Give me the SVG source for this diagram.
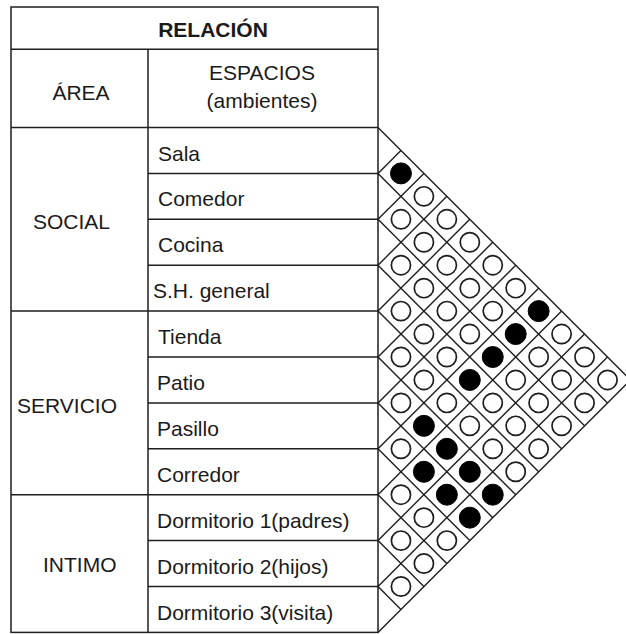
<svg xmlns="http://www.w3.org/2000/svg" width="626" height="634" viewBox="0 0 626 634">
<style>
.ln{stroke:#1e1e1e;stroke-width:1.5;fill:none}
.gl{stroke:#1e1e1e;stroke-width:1.4;fill:none}
.t{font-family:"Liberation Sans",Arial,sans-serif;font-size:21px;fill:#1a1a1a}
.b{font-weight:bold}
.o{fill:#fff;stroke:#1e1e1e;stroke-width:1.7}
.f{fill:#000;stroke:#000;stroke-width:1}
</style>
<rect width="626" height="634" fill="#fff"/>
<g id="table">
<rect class="ln" x="11" y="7" width="367" height="625.4"/>
<line class="ln" x1="11" y1="49.3" x2="378" y2="49.3"/>
<line class="ln" x1="148" y1="49.3" x2="148" y2="632.4"/>
<line class="ln" x1="11" y1="127.5" x2="378" y2="127.5"/>
<line class="ln" x1="11" y1="311.1" x2="148" y2="311.1"/>
<line class="ln" x1="11" y1="494.7" x2="148" y2="494.7"/>
<g id="row-lines">
<line class="ln" x1="148" y1="173.4" x2="378" y2="173.4"/>
<line class="ln" x1="148" y1="219.3" x2="378" y2="219.3"/>
<line class="ln" x1="148" y1="265.2" x2="378" y2="265.2"/>
<line class="ln" x1="148" y1="311.1" x2="378" y2="311.1"/>
<line class="ln" x1="148" y1="357" x2="378" y2="357"/>
<line class="ln" x1="148" y1="402.9" x2="378" y2="402.9"/>
<line class="ln" x1="148" y1="448.8" x2="378" y2="448.8"/>
<line class="ln" x1="148" y1="494.7" x2="378" y2="494.7"/>
<line class="ln" x1="148" y1="540.6" x2="378" y2="540.6"/>
<line class="ln" x1="148" y1="586.5" x2="378" y2="586.5"/>
</g>
</g>
<g id="header">
<text class="t b" x="213" y="37" text-anchor="middle">RELACIÓN</text>
<text class="t" x="81" y="100" text-anchor="middle">ÁREA</text>
<text class="t" x="262" y="80" text-anchor="middle">ESPACIOS</text>
<text class="t" x="262" y="108" text-anchor="middle">(ambientes)</text>
</g>
<g id="areas">
<text class="t" x="33" y="229">SOCIAL</text>
<text class="t" x="17" y="413">SERVICIO</text>
<text class="t" x="43" y="572">INTIMO</text>
</g>
<g id="spaces">
<text class="t" x="158" y="160.5">Sala</text>
<text class="t" x="158" y="206.4">Comedor</text>
<text class="t" x="158" y="252.3">Cocina</text>
<text class="t" x="153" y="298.2">S.H. general</text>
<text class="t" x="158" y="344.1">Tienda</text>
<text class="t" x="157" y="390">Patio</text>
<text class="t" x="157" y="435.9">Pasillo</text>
<text class="t" x="157" y="481.8">Corredor</text>
<text class="t" x="157" y="527.7">Dormitorio 1(padres)</text>
<text class="t" x="157" y="573.6">Dormitorio 2(hijos)</text>
<text class="t" x="157" y="619.5">Dormitorio 3(visita)</text>
</g>
<g id="matrix-grid">
<polyline class="gl" points="378,127.5 630.45,379.95 378,632.4"/>
<line class="gl" x1="378" y1="173.4" x2="607.5" y2="402.9"/>
<line class="gl" x1="378" y1="219.3" x2="584.55" y2="425.85"/>
<line class="gl" x1="378" y1="265.2" x2="561.6" y2="448.8"/>
<line class="gl" x1="378" y1="311.1" x2="538.65" y2="471.75"/>
<line class="gl" x1="378" y1="357" x2="515.7" y2="494.7"/>
<line class="gl" x1="378" y1="402.9" x2="492.75" y2="517.65"/>
<line class="gl" x1="378" y1="448.8" x2="469.8" y2="540.6"/>
<line class="gl" x1="378" y1="494.7" x2="446.85" y2="563.55"/>
<line class="gl" x1="378" y1="540.6" x2="423.9" y2="586.5"/>
<line class="gl" x1="378" y1="586.5" x2="400.95" y2="609.45"/>
<line class="gl" x1="378" y1="173.4" x2="400.95" y2="150.45"/>
<line class="gl" x1="378" y1="219.3" x2="423.9" y2="173.4"/>
<line class="gl" x1="378" y1="265.2" x2="446.85" y2="196.35"/>
<line class="gl" x1="378" y1="311.1" x2="469.8" y2="219.3"/>
<line class="gl" x1="378" y1="357" x2="492.75" y2="242.25"/>
<line class="gl" x1="378" y1="402.9" x2="515.7" y2="265.2"/>
<line class="gl" x1="378" y1="448.8" x2="538.65" y2="288.15"/>
<line class="gl" x1="378" y1="494.7" x2="561.6" y2="311.1"/>
<line class="gl" x1="378" y1="540.6" x2="584.55" y2="334.05"/>
<line class="gl" x1="378" y1="586.5" x2="607.5" y2="357"/>
</g>
<g id="matrix-cells">
<circle class="f" cx="400.95" cy="173.4" r="10.5"/>
<circle class="o" cx="423.9" cy="196.35" r="9.6"/>
<circle class="o" cx="446.85" cy="219.3" r="9.6"/>
<circle class="o" cx="469.8" cy="242.25" r="9.6"/>
<circle class="o" cx="492.75" cy="265.2" r="9.6"/>
<circle class="o" cx="515.7" cy="288.15" r="9.6"/>
<circle class="f" cx="538.65" cy="311.1" r="10.5"/>
<circle class="o" cx="561.6" cy="334.05" r="9.6"/>
<circle class="o" cx="584.55" cy="357" r="9.6"/>
<circle class="o" cx="607.5" cy="379.95" r="9.6"/>
<circle class="o" cx="400.95" cy="219.3" r="9.6"/>
<circle class="o" cx="423.9" cy="242.25" r="9.6"/>
<circle class="o" cx="446.85" cy="265.2" r="9.6"/>
<circle class="o" cx="469.8" cy="288.15" r="9.6"/>
<circle class="o" cx="492.75" cy="311.1" r="9.6"/>
<circle class="f" cx="515.7" cy="334.05" r="10.5"/>
<circle class="o" cx="538.65" cy="357" r="9.6"/>
<circle class="o" cx="561.6" cy="379.95" r="9.6"/>
<circle class="o" cx="584.55" cy="402.9" r="9.6"/>
<circle class="o" cx="400.95" cy="265.2" r="9.6"/>
<circle class="o" cx="423.9" cy="288.15" r="9.6"/>
<circle class="o" cx="446.85" cy="311.1" r="9.6"/>
<circle class="o" cx="469.8" cy="334.05" r="9.6"/>
<circle class="f" cx="492.75" cy="357" r="10.5"/>
<circle class="o" cx="515.7" cy="379.95" r="9.6"/>
<circle class="o" cx="538.65" cy="402.9" r="9.6"/>
<circle class="o" cx="561.6" cy="425.85" r="9.6"/>
<circle class="o" cx="400.95" cy="311.1" r="9.6"/>
<circle class="o" cx="423.9" cy="334.05" r="9.6"/>
<circle class="o" cx="446.85" cy="357" r="9.6"/>
<circle class="f" cx="469.8" cy="379.95" r="10.5"/>
<circle class="o" cx="492.75" cy="402.9" r="9.6"/>
<circle class="o" cx="515.7" cy="425.85" r="9.6"/>
<circle class="o" cx="538.65" cy="448.8" r="9.6"/>
<circle class="o" cx="400.95" cy="357" r="9.6"/>
<circle class="o" cx="423.9" cy="379.95" r="9.6"/>
<circle class="o" cx="446.85" cy="402.9" r="9.6"/>
<circle class="o" cx="469.8" cy="425.85" r="9.6"/>
<circle class="o" cx="492.75" cy="448.8" r="9.6"/>
<circle class="o" cx="515.7" cy="471.75" r="9.6"/>
<circle class="o" cx="400.95" cy="402.9" r="9.6"/>
<circle class="f" cx="423.9" cy="425.85" r="10.5"/>
<circle class="f" cx="446.85" cy="448.8" r="10.5"/>
<circle class="f" cx="469.8" cy="471.75" r="10.5"/>
<circle class="f" cx="492.75" cy="494.7" r="10.5"/>
<circle class="o" cx="400.95" cy="448.8" r="9.6"/>
<circle class="f" cx="423.9" cy="471.75" r="10.5"/>
<circle class="f" cx="446.85" cy="494.7" r="10.5"/>
<circle class="f" cx="469.8" cy="517.65" r="10.5"/>
<circle class="o" cx="400.95" cy="494.7" r="9.6"/>
<circle class="o" cx="423.9" cy="517.65" r="9.6"/>
<circle class="o" cx="446.85" cy="540.6" r="9.6"/>
<circle class="o" cx="400.95" cy="540.6" r="9.6"/>
<circle class="o" cx="423.9" cy="563.55" r="9.6"/>
<circle class="o" cx="400.95" cy="586.5" r="9.6"/>
</g>
</svg>
